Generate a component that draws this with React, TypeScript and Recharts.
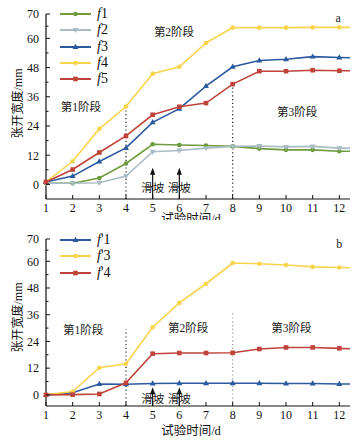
import React from 'react';
import { LineChart, Line, XAxis, YAxis, ReferenceLine, ReferenceDot, Label } from 'recharts';

const FONT = "'Liberation Serif', 'Noto Sans CJK SC', serif";

// 试验时间 (d)，最后一点为曲线延伸到坐标轴末端
const days = [1, 2, 3, 4, 5, 6, 7, 8, 9, 10, 11, 12, 12.4];
const dayTicks = [1, 2, 3, 4, 5, 6, 7, 8, 9, 10, 11, 12];

// 图a 张开宽度 (mm)
const f1 = [0.5, 0.5, 2.6, 8.6, 16.5, 16.2, 16.0, 15.6, 14.7, 14.2, 14.2, 13.6, 13.6];
const f2 = [0.5, 0.5, 0.7, 3.4, 13.4, 13.9, 14.9, 15.6, 15.8, 15.4, 15.6, 14.9, 14.9];
const f3 = [1, 3.4, 9.4, 15.0, 25.5, 31.1, 40.4, 48.3, 50.9, 51.4, 52.5, 52.1, 52.0];
const f4 = [1, 9.5, 22.8, 32.0, 45.5, 48.3, 58.1, 64.4, 64.4, 64.4, 64.5, 64.5, 64.5];
const f5 = [1, 6.1, 13.1, 19.9, 28.6, 31.9, 33.4, 41.2, 46.5, 46.5, 46.9, 46.7, 46.7];

// 图b 张开宽度 (mm)
const g1 = [0, 1.0, 4.9, 4.8, 5.1, 5.2, 5.2, 5.2, 5.2, 5.1, 5.1, 4.9, 4.9];
const g3 = [0, 1.5, 12.2, 14.0, 30.4, 41.3, 49.9, 59.2, 58.9, 58.3, 57.5, 57.2, 57.1];
const g4 = [0, 0.1, 0.4, 5.4, 18.5, 18.8, 18.8, 18.9, 20.6, 21.3, 21.3, 20.9, 20.7];

const majorTicks = [0, 12, 24, 36, 48, 60, 70];
const minorTicks = [6, 18, 30, 42, 54, 65];

const GREEN = '#6e9b3e';
const GRAY = '#a9bcc5';
const BLUE = '#2c5a9f';
const YELLOW = '#f8d44c';
const RED = '#c0433b';

type Series = { key: string; name: string; color: string; shape: string; values: number[] };

const seriesA: Series[] = [
  { key: 'f1', name: '1', color: GREEN, shape: 'circle', values: f1 },
  { key: 'f2', name: '2', color: GRAY, shape: 'down', values: f2 },
  { key: 'f3', name: '3', color: BLUE, shape: 'up', values: f3 },
  { key: 'f4', name: '4', color: YELLOW, shape: 'circle', values: f4 },
  { key: 'f5', name: '5', color: RED, shape: 'square', values: f5 },
];

const seriesB: Series[] = [
  { key: 'g1', name: "'1", color: BLUE, shape: 'up', values: g1 },
  { key: 'g3', name: "'3", color: YELLOW, shape: 'circle', values: g3 },
  { key: 'g4', name: "'4", color: RED, shape: 'square', values: g4 },
];

const buildRows = (series: Series[]) =>
  days.map((d, i) => {
    const row: Record<string, number> = { day: d };
    series.forEach(s => (row[s.key] = s.values[i]));
    return row;
  });

function Marker({ cx, cy, shape, color }: { cx: number; cy: number; shape: string; color: string }) {
  if (shape === 'square') return <rect x={cx - 2.3} y={cy - 2.3} width={4.6} height={4.6} fill={color} />;
  if (shape === 'up')
    return <polygon points={`${cx},${cy - 3.2} ${cx - 3},${cy + 2} ${cx + 3},${cy + 2}`} fill={color} />;
  if (shape === 'down')
    return <polygon points={`${cx},${cy + 3.2} ${cx - 3},${cy - 2} ${cx + 3},${cy - 2}`} fill={color} />;
  return <circle cx={cx} cy={cy} r={2.3} fill={color} />;
}

function YTick(props: any) {
  const { x, y, payload } = props;
  const major = majorTicks.includes(payload.value);
  const ax = x + 7;
  return (
    <g>
      <line x1={ax} x2={ax + (major ? 4 : 2.5)} y1={y} y2={y} stroke="#111" strokeWidth={1} />
      {major && (
        <text x={x} y={y} dy="0.36em" textAnchor="end" fontSize={12} fill="#111" fontFamily={FONT}>
          {payload.value}
        </text>
      )}
    </g>
  );
}

function XTick(props: any) {
  const { x, y, payload } = props;
  const ay = y - 4;
  return (
    <g>
      <line x1={x} x2={x} y1={ay} y2={ay - 4} stroke="#111" strokeWidth={1} />
      <text x={x} y={y} dy="0.72em" textAnchor="middle" fontSize={12} fill="#111" fontFamily={FONT}>
        {payload.value}
      </text>
    </g>
  );
}

const Note = (text: string, size = 11.5) => (p: any) => (
  <text x={p.cx} y={p.cy} dy="0.36em" textAnchor="middle" fontSize={size} fill="#1a1a1a" fontFamily={FONT}>
    {text}
  </text>
);

const Arrow = (p: any) => {
  const top = Math.min(p.y1, p.y2);
  const bottom = Math.max(p.y1, p.y2);
  return (
    <g>
      <line x1={p.x1} x2={p.x1} y1={bottom} y2={top + 4} stroke="#111" strokeWidth={1.2} />
      <polygon points={`${p.x1},${top} ${p.x1 - 2.6},${top + 7} ${p.x1 + 2.6},${top + 7}`} fill="#111" />
    </g>
  );
};

function Legend({ series }: { series: Series[] }) {
  return (
    <div style={{ position: 'absolute', left: 60, top: 0 }}>
      {series.map(s => (
        <div key={s.key} style={{ height: 16.3, display: 'flex', alignItems: 'center' }}>
          <svg width={31} height={10}>
            <line x1={0} x2={31} y1={5} y2={5} stroke={s.color} strokeWidth={2} />
            <Marker cx={15.5} cy={5} shape={s.shape} color={s.color} />
          </svg>
          <span style={{ marginLeft: 6, fontFamily: FONT, fontSize: 14, color: '#111', lineHeight: '14px' }}>
            <i>f</i>
            {s.name}
          </span>
        </div>
      ))}
    </div>
  );
}

type PanelProps = {
  series: Series[];
  yMin: number;
  margin: { top: number; right: number; bottom: number; left: number };
  height: number;
  letter: string;
  letterAt: [number, number];
  stages: [string, number, number][];
  slideY: number;
  arrowTop: number;
  dividers: [number, number, string][];
  yLabelShift: number;
  xLabelDy: number;
  legendTop: number;
};

function Panel(p: PanelProps) {
  const rows = buildRows(p.series);
  return (
    <div style={{ position: 'relative', width: 358, height: p.height }}>
      <LineChart width={358} height={p.height} data={rows} margin={p.margin}>
        <XAxis
          dataKey="day"
          type="number"
          domain={[1, 12.4]}
          ticks={dayTicks}
          interval={0}
          height={20}
          tickSize={0}
          tickMargin={4}
          tickLine={false}
          tick={<XTick />}
          axisLine={{ stroke: '#111', strokeWidth: 1.2 }}
        >
          <Label
            content={(lp: any) => (
              <text
                x={lp.viewBox.x + lp.viewBox.width / 2 - 7}
                y={lp.viewBox.y + p.xLabelDy}
                dy="0.36em"
                textAnchor="middle"
                fontSize={12.5}
                fill="#111"
                fontFamily={FONT}
              >
                试验时间/d
              </text>
            )}
          />
        </XAxis>
        <YAxis
          type="number"
          domain={[p.yMin, 70]}
          ticks={[...majorTicks, ...minorTicks].sort((a, b) => a - b)}
          interval={0}
          width={46}
          tickSize={0}
          tickMargin={7}
          tickLine={false}
          tick={<YTick />}
          axisLine={{ stroke: '#111', strokeWidth: 1.2 }}
        >
          <Label
            content={(lp: any) => {
              const cy = lp.viewBox.y + lp.viewBox.height / 2 + p.yLabelShift;
              return (
                <text
                  x={18}
                  y={cy}
                  transform={`rotate(-90 18 ${cy})`}
                  dy="0.36em"
                  textAnchor="middle"
                  fontSize={12}
                  fill="#111"
                  fontFamily={FONT}
                >
                  张开宽度/mm
                </text>
              );
            }}
          />
        </YAxis>

        {p.dividers.map(([x, top, color]) => (
          <ReferenceLine
            key={`div-${x}`}
            segment={[{ x, y: p.yMin }, { x, y: top }]}
            stroke={color}
            strokeWidth={1.2}
            strokeDasharray="1.2 2.6"
          />
        ))}

        {[5, 6].map(x => (
          <ReferenceLine key={`arrow-${x}`} segment={[{ x, y: p.yMin }, { x, y: p.arrowTop }]} shape={Arrow} />
        ))}
        {[5, 6].map(x => (
          <ReferenceDot key={`slide-${x}`} x={x} y={p.slideY} r={0} shape={Note('滑坡')} />
        ))}

        {p.stages.map(([t, x, y]) => (
          <ReferenceDot key={t} x={x} y={y} r={0} shape={Note(t)} />
        ))}
        <ReferenceDot x={p.letterAt[0]} y={p.letterAt[1]} r={0} shape={Note(p.letter, 12)} />

        {p.series.map(s => (
          <Line
            key={s.key}
            dataKey={s.key}
            stroke={s.color}
            strokeWidth={1.6}
            isAnimationActive={false}
            dot={(dp: any) =>
              dp.payload.day > 12 ? (
                <g key={`${s.key}-${dp.index}`} />
              ) : (
                <Marker key={`${s.key}-${dp.index}`} cx={dp.cx} cy={dp.cy} shape={s.shape} color={s.color} />
              )
            }
            activeDot={false}
          />
        ))}
      </LineChart>
      <div style={{ position: 'absolute', left: 0, top: p.legendTop }}>
        <Legend series={p.series} />
      </div>
    </div>
  );
}

export default function App() {
  return (
    <div style={{ position: 'absolute', left: 0, top: 0, width: 358, height: 444, background: '#fff' }}>
      <Panel
        series={seriesA}
        yMin={-6}
        height={226}
        margin={{ top: 14, right: 8, bottom: 7, left: 0 }}
        letter="a"
        letterAt={[11.96, 68.6]}
        stages={[
          ['第1阶段', 2.31, 31.9],
          ['第2阶段', 5.8, 62.6],
          ['第3阶段', 10.42, 29.9],
        ]}
        slideY={-1.5}
        arrowTop={6.8}
        dividers={[
          [4, 31.5, '#222'],
          [8, 41, '#222'],
        ]}
        yLabelShift={-3}
        xLabelDy={19}
        legendTop={6}
      />
      <div style={{ position: 'absolute', left: 0, top: 220, background: '#fff' }}>
        <Panel
          series={seriesB}
          yMin={-5}
          height={224}
          margin={{ top: 19, right: 8, bottom: 18, left: 0 }}
          letter="b"
          letterAt={[12.0, 67.8]}
          stages={[
            ['第1阶段', 2.39, 29.4],
            ['第2阶段', 6.33, 30.3],
            ['第3阶段', 10.2, 30.3],
          ]}
          slideY={-1.6}
          arrowTop={3.4}
          dividers={[
            [4, 29.4, '#222'],
            [8, 37.5, '#9a9a9a'],
          ]}
          yLabelShift={-5}
          xLabelDy={24}
          legendTop={12}
        />
      </div>
    </div>
  );
}
